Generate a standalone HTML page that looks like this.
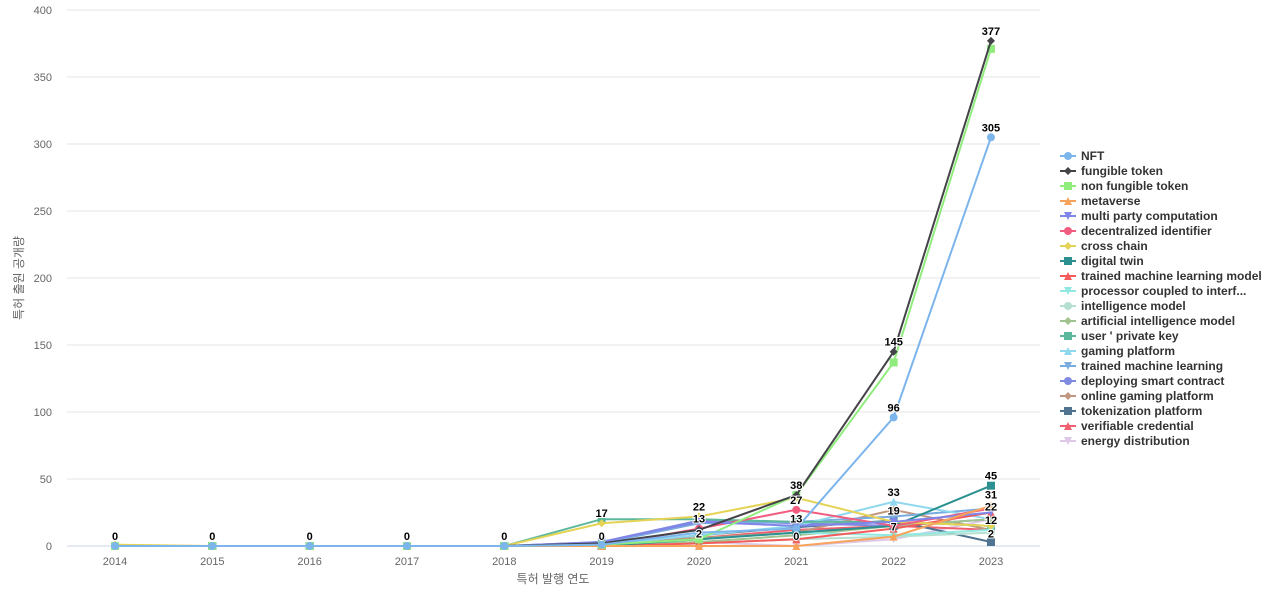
<!DOCTYPE html>
<html><head><meta charset="utf-8"><style>
body{margin:0;background:#fff;font-family:"Liberation Sans","Noto Sans CJK KR",sans-serif}
</style></head><body>
<svg id="s" width="1280" height="600" xmlns="http://www.w3.org/2000/svg" font-family="Liberation Sans, Noto Sans CJK KR, sans-serif"></svg>
<script>
const s=document.getElementById('s');let h='';
const X=i=>115+97.33*i, Y=v=>546-1.34*v;
for(let v=0;v<=400;v+=50){h+=`<line x1="67" x2="1040" y1="${Y(v)}" y2="${Y(v)}" stroke="${v?'#e6e6e6':'#ccd6eb'}"/>`;
h+=`<text x="52" y="${Y(v)+4}" font-size="11" fill="#666" text-anchor="end">${v}</text>`;}
for(let i=0;i<10;i++)h+=`<text x="${X(i)}" y="565" font-size="11" fill="#666" text-anchor="middle">${2014+i}</text>`;
h+=`<text x="553" y="583" font-size="12" fill="#666" text-anchor="middle">특허 발행 연도</text>`;
h+=`<text transform="translate(23,278) rotate(-90)" font-size="12" fill="#666" text-anchor="middle">특허 출원 공개량</text>`;
const S=[
["NFT","#7cb5ec","c",[0,0,0,0,0,1,10,13,96,305]],
["fungible token","#434348","d",[0,0,0,0,0,2,12,38,145,377]],
["non fungible token","#90ed7d","s",[0,0,0,0,0,1,5,38,137,371]],
["metaverse","#f7a35c","t",[0,0,0,0,0,0,0,0,7,30]],
["multi party computation","#8085e9","v",[0,0,0,0,0,3,18,15,18,25]],
["decentralized identifier","#f15c80","c",[0,0,0,0,0,0,13,27,15,28]],
["cross chain","#e4d354","d",[1,0,0,0,0,17,22,36,18,15]],
["digital twin","#2b908f","s",[0,0,0,0,0,0,5,10,15,45]],
["trained machine learning model","#f45b5b","t",[0,0,0,0,0,0,2,5,13,25]],
["processor coupled to interf...","#91e8e1","v",[0,0,0,0,0,0,5,10,8,12]],
["intelligence model","#b5dfd0","c",[0,0,0,0,0,0,2,5,7,10]],
["artificial intelligence model","#a0c490","d",[0,0,0,0,0,0,3,8,15,20]],
["user ' private key","#5cb89c","s",[0,0,0,0,0,20,20,18,18,15]],
["gaming platform","#8fd8ee","t",[0,0,0,0,0,1,8,15,33,20]],
["trained machine learning","#7aace0","v",[0,0,0,0,0,2,17,18,22,28]],
["deploying smart contract","#7f8ae0","c",[0,0,0,0,0,3,19,17,15,20]],
["online gaming platform","#c09880","d",[0,0,0,0,0,2,6,10,27,12]],
["tokenization platform","#4f7390","s",[0,0,0,0,0,0,8,14,19,3]],
["verifiable credential","#ee6070","t",[0,0,0,0,0,0,6,12,15,12]],
["energy distribution","#ddc8e8","v",[0,0,0,0,0,0,3,0,5,20]]];
function mk(t,x,y,c,r){r=r||4;
if(t=='c')return `<circle cx="${x}" cy="${y}" r="${r}" fill="${c}"/>`;
if(t=='s')return `<rect x="${x-r}" y="${y-r}" width="${2*r}" height="${2*r}" fill="${c}"/>`;
if(t=='d')return `<path d="M${x} ${y-r}L${x+r} ${y}L${x} ${y+r}L${x-r} ${y}Z" fill="${c}"/>`;
if(t=='t')return `<path d="M${x} ${y-r}L${x+r} ${y+r}L${x-r} ${y+r}Z" fill="${c}"/>`;
return `<path d="M${x-r} ${y-r}L${x+r} ${y-r}L${x} ${y+r}Z" fill="${c}"/>`;}
S.slice().reverse().forEach(([n,c,t,d])=>{
h+=`<polyline fill="none" stroke="${c}" stroke-width="2" points="${d.map((v,i)=>X(i)+','+Y(v)).join(' ')}"/>`;
d.forEach((v,i)=>h+=mk(t,X(i),Y(v),c));});
const L=[[0,0,0],[1,0,0],[2,0,0],[3,0,0],[4,0,0],[5,0,0],[5,17,17],[6,22,22],[6,13,13],[6,2,2],[7,38,38],[7,27,27],[7,13,13],[7,0,0],[8,145,145],[8,96,96],[8,33,33],[8,19,19],[8,7,7],[9,377,377],[9,305,305],[9,45,45],[9,31,31],[9,22,22],[9,12,12],[9,2,2]];
L.forEach(([i,v,t])=>h+=`<text x="${X(i)}" y="${Y(v)-6}" font-size="11" font-weight="bold" fill="#000" stroke="#fff" stroke-width="2" paint-order="stroke" text-anchor="middle">${t}</text>`);
S.forEach(([n,c,t],k)=>{const y=156+15*k;
h+=`<line x1="1060" x2="1076" y1="${y}" y2="${y}" stroke="${c}" stroke-width="2"/>`+mk(t,1068,y,c,4);
h+=`<text x="1081" y="${y+4}" font-size="12" font-weight="bold" fill="#333">${n}</text>`;});
s.innerHTML=h;
</script>
</body></html>
